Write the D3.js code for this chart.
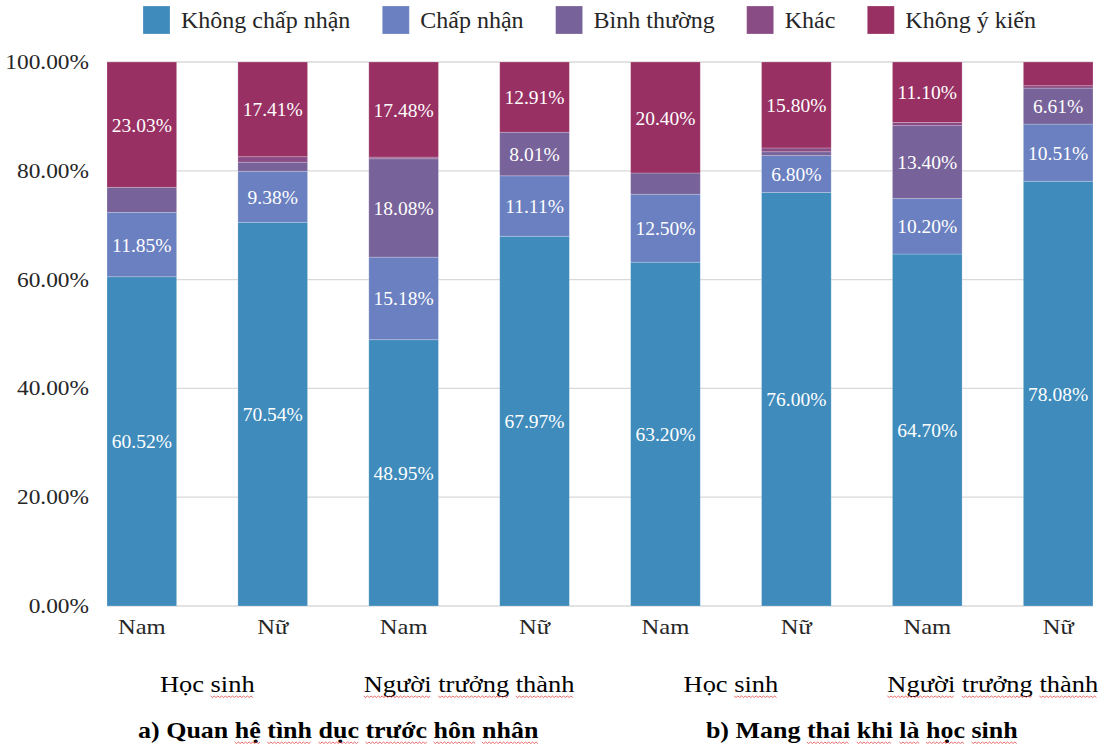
<!DOCTYPE html>
<html>
<head>
<meta charset="utf-8">
<script src="https://cdn.jsdelivr.net/npm/d3@7"></script>
<style>
  html, body { margin: 0; padding: 0; background: #fff; }
  svg { display: block; }
  text { font-family: "Liberation Serif", "Times New Roman", serif; }
</style>
</head>
<body>
<svg id="chart" width="1103" height="746"></svg>
<script>
// ---- Data ----
const categories = ["Nam", "Nữ", "Nam", "Nữ", "Nam", "Nữ", "Nam", "Nữ"];
const groups = ["Học sinh", "Người trưởng thành", "Học sinh", "Người trưởng thành"];
const sections = ["a) Quan hệ tình dục trước hôn nhân", "b) Mang thai khi là học sinh"];
const seriesNames = ["Không chấp nhận", "Chấp nhận", "Bình thường", "Khác", "Không ý kiến"];
const khongChapNhan = [60.52, 70.54, 48.95, 67.97, 63.20, 76.00, 64.70, 78.08];
const chapNhan      = [11.85,  9.38, 15.18, 11.11, 12.50,  6.80, 10.20, 10.51];
const binhThuong    = [ 4.60,  1.67, 18.08,  8.01,  3.90,  0.70, 13.40,  6.61];
const khac          = [ 0.00,  1.00,  0.31,  0.00,  0.00,  0.70,  0.60,  0.44];
const khongYKien    = [23.03, 17.41, 17.48, 12.91, 20.40, 15.80, 11.10,  4.36];
const yTicks = [0, 20, 40, 60, 80, 100];
// words with spell-check underline (indices of words)
const groupUnderline = [[1], [0, 1, 2], [1], [0, 1, 2]];
const sectionUnderline = [[2, 3, 4, 5, 6, 7], [2, 3, 4, 5, 6]];

const colors = ["#3e8bbc", "#6a80c0", "#776299", "#8a4c84", "#983063"];

const seriesValues = [khongChapNhan, chapNhan, binhThuong, khac, khongYKien];
const table = categories.map((c, i) => {
  const row = { idx: i, cat: c };
  seriesNames.forEach((s, k) => row[s] = seriesValues[k][i]);
  return row;
});

const svg = d3.select("#chart");

const x = d3.scaleBand().domain(d3.range(categories.length)).range([107, 1093])
  .paddingInner(0.468).paddingOuter(0);
const y = d3.scaleLinear().domain([0, 100]).range([606, 62]);

// gridlines
svg.append("g").selectAll("line").data(yTicks).join("line")
  .attr("x1", 107).attr("x2", 1093)
  .attr("y1", d => y(d)).attr("y2", d => y(d))
  .attr("stroke", "#d9d9d9").attr("stroke-width", 1.3);

// y tick labels
svg.append("g").selectAll("text").data(yTicks).join("text")
  .attr("transform", d => `translate(89,${y(d)}) scale(1.14,1)`)
  .attr("text-anchor", "end").attr("dy", "0.34em")
  .attr("font-size", 20.5).attr("fill", "#262626")
  .text(d => d.toFixed(2) + "%");

// stacked bars
const stack = d3.stack().keys(seriesNames);
const stacked = stack(table);

const layers = svg.append("g").selectAll("g").data(stacked).join("g")
  .attr("fill", (d, i) => colors[i]);

layers.selectAll("rect").data(d => d).join("rect")
  .attr("x", d => x(d.data.idx))
  .attr("width", x.bandwidth())
  .attr("y", d => y(d[1]))
  .attr("height", d => Math.max(0, y(d[0]) - y(d[1])))
  .attr("stroke", "rgba(255,255,255,0.28)").attr("stroke-width", 0.8);

// value labels
const labels = svg.append("g");
stacked.forEach((layer, k) => {
  layer.forEach(d => {
    const v = d[1] - d[0];
    if (v >= 5) {
      labels.append("text")
        .attr("x", x(d.data.idx) + x.bandwidth() / 2)
        .attr("y", y((d[0] + d[1]) / 2))
        .attr("dy", "0.36em")
        .attr("text-anchor", "middle")
        .attr("font-size", 19.5).attr("fill", "#ffffff")
        .text(seriesValues[k][d.data.idx].toFixed(2) + "%");
    }
  });
});

// x category labels
svg.append("g").selectAll("text").data(categories).join("text")
  .attr("transform", (d, i) => `translate(${x(i) + x.bandwidth() / 2},634) scale(1.17,1)`)
  .attr("text-anchor", "middle")
  .attr("font-size", 21).attr("fill", "#262626")
  .text(d => d);

// helper: text with wavy underline under chosen words
function wavyText(parent, str, cx, baseY, size, weight, underlined, sx) {
  const g = parent.append("g").attr("transform", `translate(${cx},${baseY}) scale(${sx},1)`);
  const t = g.append("text").attr("text-anchor", "middle")
    .attr("font-size", size).attr("font-weight", weight).attr("fill", "#000")
    .text(str);
  const words = str.split(" ");
  let pos = 0;
  words.forEach((w, wi) => {
    if (underlined.includes(wi)) {
      const x0 = t.node().getStartPositionOfChar(pos).x;
      const len = t.node().getSubStringLength(pos, w.length);
      const pts = [];
      const step = 1.6;
      let n = Math.floor(len / step);
      for (let j = 0; j <= n; j++) {
        pts.push([x0 + j * step, (j % 2 === 0 ? 0 : 1.5) + 4]);
      }
      g.append("path").attr("d", d3.line()(pts))
        .attr("fill", "none").attr("stroke", "#e0393b").attr("stroke-width", 0.7);
    }
    pos += w.length + 1;
  });
}

// group labels
const groupCenters = groups.map((gname, gi) => (x(gi * 2) + x(gi * 2 + 1) + x.bandwidth()) / 2);
const groupLayer = svg.append("g");
groups.forEach((gname, gi) => {
  wavyText(groupLayer, gname, groupCenters[gi], 692, 23, "normal", groupUnderline[gi], 1.15);
});

// section titles
const secLayer = svg.append("g");
sections.forEach((s, si) => {
  const cx = (x(si * 4) + x(si * 4 + 3) + x.bandwidth()) / 2;
  wavyText(secLayer, s, cx, 738, 23, "bold", sectionUnderline[si], 1.13);
});

// legend
const legend = svg.append("g");
let lx = 143;
seriesNames.forEach((s, i) => {
  legend.append("rect").attr("x", lx).attr("y", 6).attr("width", 27).attr("height", 28)
    .attr("fill", colors[i]).attr("stroke", "rgba(255,255,255,0.3)").attr("stroke-width", 0.8);
  const t = legend.append("text").attr("x", lx + 38).attr("y", 28)
    .attr("font-size", 24).attr("fill", "#262626").text(s);
  lx = lx + 38 + t.node().getComputedTextLength() + 32;
});
</script>
</body>
</html>
